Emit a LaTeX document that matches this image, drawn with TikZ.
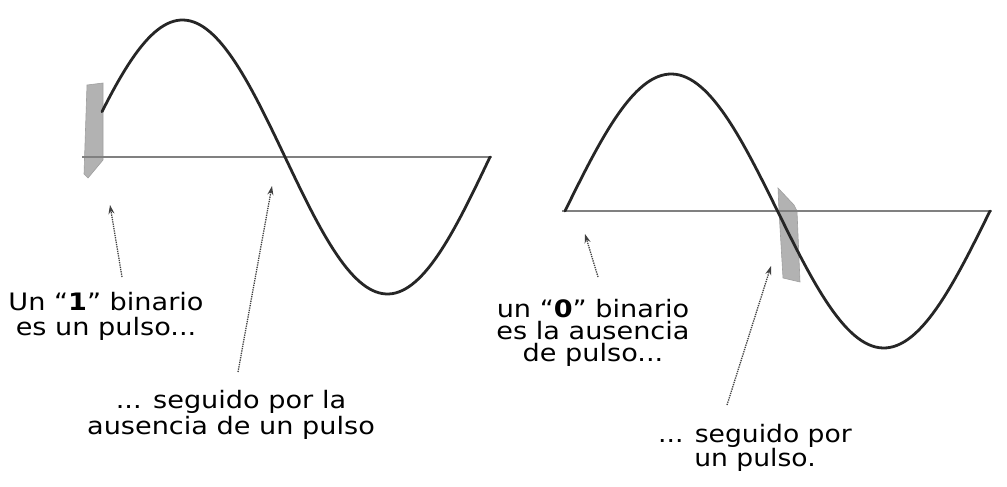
\documentclass[tikz,border=0pt]{standalone}
\usepackage{fontspec}
\setmainfont{DejaVu Sans}
\usetikzlibrary{arrows.meta}

\begin{document}
\begin{tikzpicture}[x=1pt,y=-1pt,
    onde/.style={line width=2.8pt, black!85, line cap=round},
    axe/.style={line width=1.8pt, black!50},
    fleche/.style={densely dotted, line width=1.3pt, black!75, -{Stealth[length=9pt,width=6pt]}},
    impulsion/.style={fill=gray!60, draw=gray!75, line width=0.6pt},
    legende/.style={align=center, inner sep=0pt, xscale=1.13}]
    \useasboundingbox (0,0) rectangle (1007,487);

    % Coordonnées des flèches (queue, pointe)
    \coordinate (q1) at (122,277);
    \coordinate (p1) at (110,205);
    \coordinate (q2) at (238,372);
    \coordinate (p2) at (272,186);
    \coordinate (q3) at (598,277);
    \coordinate (p3) at (585,234);
    \coordinate (q4) at (727,405);
    \coordinate (p4) at (771,266);

    % Impulsions grisées
    \fill[impulsion] (87,85) -- (103,83) -- (103,160) -- (88,178) -- (84,174) -- cycle;
    \fill[impulsion] (778,188) -- (794,205) -- (797,211) -- (800,282) -- (783,278) -- (779,211) -- cycle;

    % Axes
    \draw[axe] (82,157) -- (492,157);
    \draw[axe] (562,211) -- (992,211);

    % Sinusoïdes
    \draw[onde] plot[domain=102:490, samples=120] (\x, {157-137*sin((\x-80)/410*360)});
    \draw[onde] plot[domain=565:990, samples=120] (\x, {211-137*sin((\x-565)/425*360)});

    % Légendes
    \node[legende, font=\fontsize{24}{25}\selectfont] (un1) at (106,316) {Un “\textbf{1}” binario\\es un pulso...};
    \node[legende, font=\fontsize{24}{26}\selectfont] (sig1) at (231,415) {... seguido por la\\ausencia de un pulso};
    \node[legende, font=\fontsize{24}{22}\selectfont] (cero0) at (593,333) {un “\textbf{0}” binario\\es la ausencia\\de pulso...};
    \node[legende, xscale=0.98, font=\fontsize{24}{19}\selectfont] (sig0) at (755,448) {... seguido por\\un pulso.};

    % Flèches
    \draw[fleche] (q1) -- (p1);
    \draw[fleche] (q2) -- (p2);
    \draw[fleche] (q3) -- (p3);
    \draw[fleche] (q4) -- (p4);

\end{tikzpicture}
\end{document}
